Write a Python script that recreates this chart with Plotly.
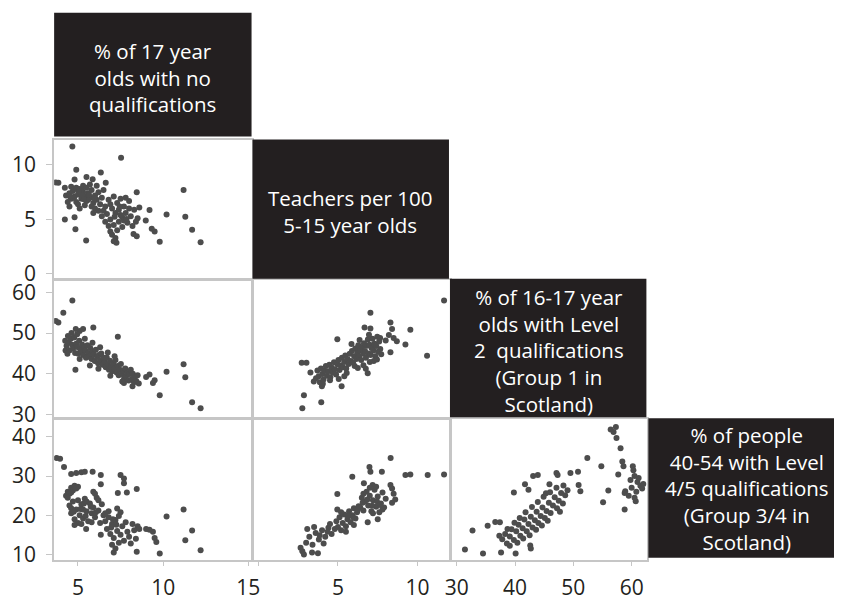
import plotly.graph_objects as go

# ---------------- data ----------------
# Panel A: % 17 yr olds no qualifications (x) vs teachers per 100 (y)
a_x = [4.67, 7.53, 3.85, 4.9, 6.34, 5.86, 6.63, 4.23, 4.8, 8.45, 11.2, 4.23, 4.8, 4.85, 5.48, 9.2, 10.2, 8.98,
       9.33, 9.5, 9.8, 11.3, 11.7, 12.2, 8.26, 8.45, 7.26, 6.9, 3.7, 5.5, 6.1,
       4.3, 4.5, 4.6, 4.7, 4.8, 4.9, 5.0, 5.1, 5.2, 5.3, 5.4, 5.5, 5.6, 5.7, 5.8, 5.9, 6.0, 6.1, 6.2, 6.3,
       4.4, 4.6, 4.8, 5.0, 5.2, 5.4, 5.6, 5.8, 6.0, 6.2, 6.4, 5.9, 5.1, 4.5, 5.3, 5.7, 6.4, 6.5, 4.9, 5.5,
       6.6, 6.7, 6.8, 6.9, 7.0, 7.1, 7.1, 7.2, 7.3, 7.4, 7.4, 7.5, 7.6, 7.6, 7.7, 7.8, 7.9, 8.0, 8.1, 8.2,
       8.3, 8.5, 8.6, 6.8, 7.0, 7.2, 7.3, 6.6, 6.5, 7.8, 8.0, 7.5, 6.9, 7.7, 8.4, 7.1,
       4.75, 5.05, 5.35, 5.65, 5.95, 4.55, 5.25, 7.15, 7.45, 7.85]
a_y = [11.7, 10.65, 8.36, 9.55, 9.3, 8.7, 8.36, 7.9, 8.66, 7.5, 7.7, 5.0, 5.2, 4.1, 3.07, 5.86, 5.45, 4.9,
       4.14, 3.9, 2.95, 5.24, 4.05, 2.9, 3.66, 3.45, 2.86, 3.9, 8.4, 8.9, 8.1,
       7.2, 7.4, 6.9, 7.6, 7.1, 6.6, 7.3, 7.8, 6.9, 7.5, 7.1, 6.7, 7.4, 7.0, 7.7, 6.5, 7.2, 6.8, 7.5, 6.4,
       6.6, 8.0, 7.8, 6.4, 7.7, 6.3, 6.8, 6.2, 6.0, 5.8, 5.3, 5.6, 6.0, 6.2, 8.1, 8.2, 7.0, 7.7, 7.9, 7.9,
       6.2, 5.5, 6.8, 5.0, 6.0, 4.5, 7.1, 5.6, 6.5, 4.8, 5.9, 6.9, 5.2, 4.3, 6.2, 5.6, 4.7, 6.0, 5.3, 4.4,
       5.9, 5.1, 6.1, 4.4, 3.6, 3.3, 4.0, 4.8, 5.8, 7.0, 6.7, 5.4, 6.4, 4.9, 4.8, 3.0,
       7.0, 7.55, 6.85, 7.25, 6.95, 7.05, 7.25, 5.25, 6.2, 5.05]

# Panel B: % 17 yr olds no qualifications (x) vs % 16-17 Level 2 (y)
b_x = [3.85, 3.7, 4.14, 4.67, 5.9, 7.34, 4.85, 4.27, 7.7, 8.2, 9.8, 10.2, 11.2, 11.3, 11.7, 12.2, 9.2, 9.4,
       9.0, 9.5, 4.87, 5.3, 5.1,
       4.25, 4.33, 4.41, 4.47, 4.52, 4.58, 4.66, 4.71, 4.78, 4.83, 4.9, 4.96, 5.02, 5.07, 5.13, 5.19, 5.24,
       5.31, 5.36, 5.43, 5.47, 5.55, 5.61, 5.66, 5.72, 5.8, 5.86, 5.93, 5.99, 6.05, 6.12, 6.18, 6.23, 6.31,
       6.37, 6.44, 6.5, 6.57, 6.63, 6.69, 6.76, 6.82, 6.88, 6.95, 7.01, 7.08, 7.14, 7.2, 7.27, 7.33, 7.39,
       7.46, 7.52, 7.58, 7.65, 7.71, 7.78, 7.84, 7.9, 7.97, 8.03, 8.1, 8.16, 8.22, 8.29, 8.35, 8.42, 8.5,
       8.57, 4.38, 4.62, 4.95, 5.4, 5.85, 6.3, 6.75, 7.15, 5.1, 5.7, 6.2, 6.9, 7.6]
b_y = [52.6, 53.0, 55.0, 58.0, 51.4, 49.1, 41.0, 45.7, 37.7, 36.9, 34.7, 40.5, 42.3, 39.1, 33.0, 31.5, 39.8, 37.7,
       39.2, 38.4, 51.0, 51.0, 50.5,
       48.1, 46.9, 49.3, 47.6, 45.8, 48.6, 47.1, 46.2, 48.9, 45.1, 47.4, 46.6, 44.9, 48.1, 46.0, 45.3, 47.2,
       44.6, 46.4, 45.7, 43.9, 47.0, 45.1, 44.2, 46.3, 43.6, 45.5, 44.8, 43.1, 45.9, 44.1, 42.6, 44.6, 43.3,
       45.0, 42.2, 43.9, 42.8, 41.6, 44.0, 42.3, 41.0, 43.2, 41.7, 40.6, 42.5, 41.2, 43.4, 40.3, 41.9, 39.6,
       41.0, 42.4, 39.9, 40.8, 38.9, 41.3, 39.5, 40.2, 38.3, 39.9, 41.0, 38.7, 40.0, 37.9, 39.3, 38.2, 39.6,
       37.6, 44.9, 50.0, 49.7, 48.6, 47.6, 46.5, 45.2, 44.3, 43.6, 42.0, 41.2, 39.5, 38.1]

# Panel C: % 17 yr olds no qualifications (x) vs % 40-54 Level 4/5 (y)
c_x = [3.75, 3.95, 4.18, 4.6, 4.9, 5.2, 5.4, 5.86, 6.34, 6.34, 7.5, 7.7, 7.7, 7.34, 7.87, 8.45, 7.3, 10.2, 11.2,
       11.7, 11.3, 12.2, 9.8, 8.45, 7.1, 5.48, 6.34, 5.9,
       4.3, 4.4, 4.5, 4.6, 4.7, 4.8, 4.9, 5.0, 4.4, 4.6,
       4.5, 4.6, 4.7, 4.8, 4.9, 5.0, 5.0, 5.1, 5.2, 5.3, 5.4, 5.5, 5.6, 5.7, 5.8, 5.9, 6.0, 6.1, 6.2, 6.3,
       6.4, 6.5, 4.8, 5.2, 5.5, 5.8, 6.0, 4.6, 5.3, 6.2,
       6.6, 6.7, 6.8, 6.9, 7.0, 7.1, 7.2, 7.3, 7.4, 7.5, 7.6, 7.7, 7.8, 7.9, 8.0, 6.8, 7.0, 7.2, 7.4, 6.6, 7.5,
       8.2, 8.3, 8.4, 8.5, 8.1, 8.6, 9.0, 9.2, 9.4, 9.5, 9.6,
       4.75, 5.15, 5.45, 5.75, 6.05, 6.95, 7.25, 7.05, 5.35]
c_y = [34.6, 34.4, 32.3, 30.5, 30.8, 31.0, 31.1, 31.1, 30.25, 27.9, 30.25, 29.4, 28.2, 25.7, 25.8, 26.7, 21.75, 19.7, 21.5,
       16.1, 13.6, 11.1, 10.25, 10.7, 10.5, 16.5, 15.0, 26.0,
       25.0, 26.0, 25.5, 27.0, 26.3, 27.5, 26.8, 27.3, 24.5, 25.8,
       22.5, 20.5, 23.5, 19.0, 21.5, 23.8, 18.0, 20.0, 22.8, 19.2, 24.2, 21.0, 18.5, 23.0, 20.5, 22.0, 19.5, 24.5, 21.2, 18.0,
       22.8, 20.0, 17.5, 17.8, 23.5, 18.2, 25.5, 21.8, 21.5, 23.8,
       18.5, 16.5, 19.5, 15.2, 17.8, 14.2, 18.8, 16.0, 19.8, 15.0, 17.2, 13.5, 18.2, 15.8, 14.5, 21.0, 12.5, 11.5, 13.0, 20.5, 20.8,
       17.8, 16.2, 14.0, 17.2, 12.8, 16.5, 16.5, 16.3, 15.8, 14.2, 13.2,
       20.9, 21.6, 19.8, 22.2, 20.8, 16.9, 17.6, 19.0, 23.0]

# Panel D: teachers per 100 (x) vs % 16-17 Level 2 (y)
d_x = [11.67, 7.04, 6.67, 7.04, 8.3, 8.4, 9.55, 4.96, 8.0, 8.2, 8.5, 8.7, 9.24, 10.6, 8.3, 2.72, 3.02, 3.27,
       2.86, 2.76, 3.95, 3.48, 3.99, 5.23, 6.87,
       3.62, 3.71, 3.79, 3.86, 3.93, 4.02, 4.09, 4.15, 4.24, 4.31, 4.38, 4.46, 4.52, 4.6, 4.67, 4.75, 4.81,
       4.88, 4.96, 5.03, 5.1, 5.17, 5.25, 5.31, 5.39, 5.46, 5.52, 5.6, 5.67, 5.74, 5.81, 5.88, 5.95, 6.02,
       6.09, 6.15, 6.22, 6.28, 6.33, 6.4, 6.46, 6.52, 6.58, 6.64, 6.7, 6.76, 6.82, 6.88, 6.93, 6.99, 7.05,
       7.11, 7.17, 7.23, 7.29, 7.35, 7.41, 7.47, 7.53, 7.59, 7.66, 7.72, 6.36, 6.95, 7.25, 6.05, 5.55, 4.5,
       5.05, 6.6, 7.0, 5.85, 6.25, 7.45, 4.05, 5.4, 6.75, 7.65]
d_y = [58.0, 55.0, 51.4, 51.1, 52.6, 51.0, 50.8, 48.5, 48.2, 49.5, 48.8, 48.0, 47.2, 44.4, 45.3, 42.7, 42.7, 40.3,
       34.7, 31.5, 33.0, 38.1, 36.9, 36.9, 40.1,
       38.9, 40.8, 39.4, 37.9, 41.3, 39.9, 38.6, 40.7, 41.9, 39.5, 40.6, 42.2, 39.1, 41.5, 40.3, 42.8, 41.1,
       39.8, 42.3, 43.4, 40.9, 42.0, 43.9, 41.6, 42.9, 44.5, 41.3, 43.6, 42.4, 44.9, 43.1, 45.6, 42.7, 44.3,
       46.2, 43.6, 45.1, 47.0, 44.2, 45.8, 43.4, 46.6, 44.9, 47.5, 45.6, 43.9, 46.9, 48.4, 45.0, 47.1, 44.6,
       46.3, 48.6, 45.7, 47.4, 44.3, 46.8, 49.1, 45.4, 47.9, 46.1, 44.8, 48.3, 49.6, 43.1, 41.9, 40.2, 38.4,
       38.7, 42.1, 42.9, 47.3, 41.4, 43.5, 37.5, 39.4, 41.2, 48.8]

# Panel E: teachers per 100 (x) vs % 40-54 Level 4/5 (y)
e_x = [8.31, 6.98, 7.04, 7.76, 5.9, 9.24, 9.55, 10.64, 11.67, 6.63, 4.96, 7.18, 3.07, 4.96, 7.5, 6.87, 2.65, 2.76,
       2.86, 3.37, 3.74,
       8.3, 8.4, 8.5, 8.6, 8.4,
       6.4, 6.5, 6.6, 6.7, 6.8, 6.9, 7.0, 7.1, 7.2, 7.3, 7.4, 7.5, 7.6, 7.7, 7.8, 7.9, 8.0, 7.0, 7.4, 6.6, 7.2, 7.8,
       4.8, 4.9, 5.0, 5.1, 5.2, 5.3, 5.4, 5.5, 5.6, 5.7, 5.8, 5.9, 6.0, 6.1, 6.2, 6.3, 5.5, 6.0, 5.2,
       3.0, 3.2, 3.4, 3.6, 3.8, 4.0, 4.2, 4.4, 4.6, 3.5, 4.1, 4.5,
       6.55, 6.85, 7.15, 7.45, 7.65, 5.65, 5.95, 6.25, 4.35, 3.85]
e_y = [34.6, 32.3, 31.1, 31.1, 29.8, 30.25, 30.4, 30.25, 30.4, 28.2, 25.4, 27.75, 16.5, 21.5, 19.0, 18.2, 11.7, 10.8,
       10.0, 10.5, 10.3,
       27.75, 26.8, 25.5, 24.0, 23.2,
       22.0, 24.5, 21.2, 23.5, 26.0, 22.5, 25.0, 21.0, 23.8, 26.5, 22.2, 24.8, 20.8, 23.0, 25.8, 22.0, 24.2, 27.0, 27.3, 25.5, 20.5, 21.5,
       16.5, 18.5, 17.0, 19.5, 16.2, 18.0, 20.2, 17.2, 19.0, 21.0, 18.2, 20.0, 21.8, 19.2, 20.8, 22.3, 15.8, 17.5, 20.8,
       13.0, 14.5, 12.5, 15.5, 13.8, 16.2, 14.5, 16.8, 15.2, 17.0, 12.8, 17.8,
       23.2, 24.0, 22.4, 23.6, 22.6, 20.0, 19.5, 21.4, 15.8, 14.9]

# Panel F: % 16-17 Level 2 (x) vs % 40-54 Level 4/5 (y)
f_x = [31.4, 34.5, 37.6, 40.1, 32.7, 35.3, 36.6, 37.4, 39.8, 41.7, 42.3, 43.1, 43.9, 45.9, 47.1, 47.3, 49.5, 50.8,
       50.9, 51.2, 52.4, 54.8, 56.0, 55.1, 56.4, 57.3, 56.9, 57.4, 58.1, 58.4, 58.6, 57.7, 60.2, 60.3, 58.9, 58.8,
       60.7, 58.8, 42.6, 42.7, 37.3, 38.7,
       59.8, 60.5, 61.0, 61.5, 60.0, 60.8, 61.8, 59.5, 60.5, 61.2, 62.0,
       37.8, 38.3, 38.6, 39.1, 39.4, 39.8, 40.2, 40.6, 40.9, 41.3, 41.6, 42.0, 42.3, 42.7, 43.0, 43.4, 43.7,
       44.0, 44.4, 44.7, 45.1, 45.4, 45.8, 46.1, 46.5, 46.8, 47.2, 47.5, 47.9, 48.2, 48.6, 49.0, 41.8, 42.9,
       43.9, 44.9, 46.0, 40.8, 39.9, 39.1, 41.4, 43.6, 45.6, 47.7, 44.6, 42.5, 40.4, 45.3, 47.1, 48.3]
f_y = [11.25, 10.25, 10.5, 10.25, 16.1, 17.3, 18.3, 18.2, 25.8, 27.9, 26.5, 30.0, 30.25, 27.9, 30.8, 30.25, 30.8, 31.1,
       27.75, 26.1, 34.6, 32.5, 26.3, 23.3, 41.9, 42.5, 41.25, 39.7, 37.1, 33.75, 32.5, 30.4, 32.5, 31.5, 26.1, 21.5,
       23.6, 25.7, 12.3, 11.5, 14.8, 16.5,
       29.0, 30.0, 28.5, 27.5, 27.0, 26.0, 26.8, 25.0, 24.5, 29.5, 28.0,
       13.9, 15.2, 12.8, 14.6, 16.4, 13.7, 15.9, 17.6, 14.8, 16.7, 18.9, 15.9, 17.8, 19.6, 16.9, 18.7, 20.9,
       18.0, 19.8, 22.0, 19.3, 21.1, 23.2, 20.6, 22.5, 24.6, 21.8, 23.7, 25.7, 23.0, 25.1, 26.4, 20.8, 22.1,
       23.4, 24.7, 25.9, 19.3, 18.1, 12.2, 14.1, 16.3, 18.6, 20.9, 17.4, 14.9, 13.0, 25.6, 27.0, 27.6]

# Variable names (diagonal boxes)
var_labels = [
    "% of 17 year<br>olds with no<br>qualifications",
    "Teachers per 100<br>5-15 year olds",
    "% of 16-17 year<br>olds with Level<br>2  qualifications<br>(Group 1 in<br>Scotland)",
    "% of people<br>40-54 with Level<br>4/5 qualifications<br>(Group 3/4 in<br>Scotland)",
]

# Tick values / labels
col_tickvals = [[5, 10, 15], [0, 5, 10], [30, 40, 50, 60]]
col_ticktext = [["5", "10", "15"], ["", "5", "10"], ["30", "40", "50", "60"]]
row_tickvals = [[0, 5, 10], [30, 40, 50, 60], [10, 20, 30, 40]]

# ---------------- layout geometry (pixels) ----------------
W, H = 843, 604
col_px = [(49, 250), (251, 452), (453, 653)]
row_px = [(141, 282), (283, 424), (425, 568)]
col_range = [[3.6, 15.19], [-0.37, 12.04], [29.0, 62.7]]
row_range = [[-0.45, 12.25], [29.03, 63.1], [8.67, 44.5]]
box_px = [(49, 250, 11, 137), (251, 451, 140, 282), (452, 652, 282, 423), (654, 843, 424, 566)]
box_text_x = [149.5, 351, 552.5, 754]
box_text_y = [76.5, 213.3, 354.7, 495.8]

def px_x(p):
    return p / W

def px_y(p):
    return 1 - p / H

# panels: (col, row, xs, ys)
panels = [
    (0, 0, a_x, a_y),
    (0, 1, b_x, b_y),
    (0, 2, c_x, c_y),
    (1, 1, d_x, d_y),
    (1, 2, e_x, e_y),
    (2, 2, f_x, f_y),
]

fig = go.Figure()
MARKER = dict(color="#4d4d4d", size=6, line=dict(width=0))
TICKFONT = dict(family="Open Sans", size=21, color="#231f20")
AXCOL = "#c6c6c6"

for i, (c, r, xs, ys) in enumerate(panels):
    n = i + 1
    xname = "x" if n == 1 else f"x{n}"
    yname = "y" if n == 1 else f"y{n}"
    fig.add_trace(go.Scatter(x=xs, y=ys, mode="markers", marker=MARKER,
                             xaxis=xname, yaxis=yname, showlegend=False, hoverinfo="skip"))
    show_x = (r == 2)
    show_y = (c == 0)
    xa = dict(domain=[px_x(col_px[c][0]), px_x(col_px[c][1])], range=col_range[c],
              anchor=yname, showgrid=False, zeroline=False,
              showline=True, mirror=True, linecolor=AXCOL, linewidth=2,
              tickmode="array", tickvals=col_tickvals[c],
              ticktext=col_ticktext[c] if show_x else [""] * len(col_tickvals[c]),
              ticks="outside" if show_x else "", ticklen=4, tickcolor=AXCOL,
              ticklabelstandoff=4,
              tickfont=TICKFONT, fixedrange=True)
    ya = dict(domain=[px_y(row_px[r][1]), px_y(row_px[r][0])], range=row_range[r],
              anchor=xname, showgrid=False, zeroline=False,
              showline=True, mirror=True, linecolor=AXCOL, linewidth=2,
              tickmode="array", tickvals=row_tickvals[r],
              showticklabels=show_y,
              ticks="outside" if show_y else "", ticklen=6, tickcolor=AXCOL,
              ticklabelstandoff=6,
              tickfont=TICKFONT, fixedrange=True)
    fig.layout["xaxis" if n == 1 else f"xaxis{n}"] = xa
    fig.layout["yaxis" if n == 1 else f"yaxis{n}"] = ya

shapes = []
annotations = []
for k, (x0, x1, y0, y1) in enumerate(box_px):
    shapes.append(dict(type="rect", xref="paper", yref="paper",
                       x0=px_x(x0), x1=px_x(x1), y0=px_y(y1), y1=px_y(y0),
                       fillcolor="#231f20", line=dict(width=0), layer="above"))
    annotations.append(dict(xref="paper", yref="paper", x=px_x(box_text_x[k]), y=px_y(box_text_y[k]),
                            text=var_labels[k], showarrow=False, xanchor="center", yanchor="middle",
                            align="center",
                            font=dict(family="Open Sans", size=20.5, color="#ffffff")))

fig.update_layout(width=W, height=H, margin=dict(l=0, r=0, t=0, b=0),
                  paper_bgcolor="white", plot_bgcolor="white",
                  shapes=shapes, annotations=annotations)

fig.write_html("out.html", config={"displayModeBar": False},
               post_script="document.body.style.margin='0px';document.body.style.overflow='hidden';")
